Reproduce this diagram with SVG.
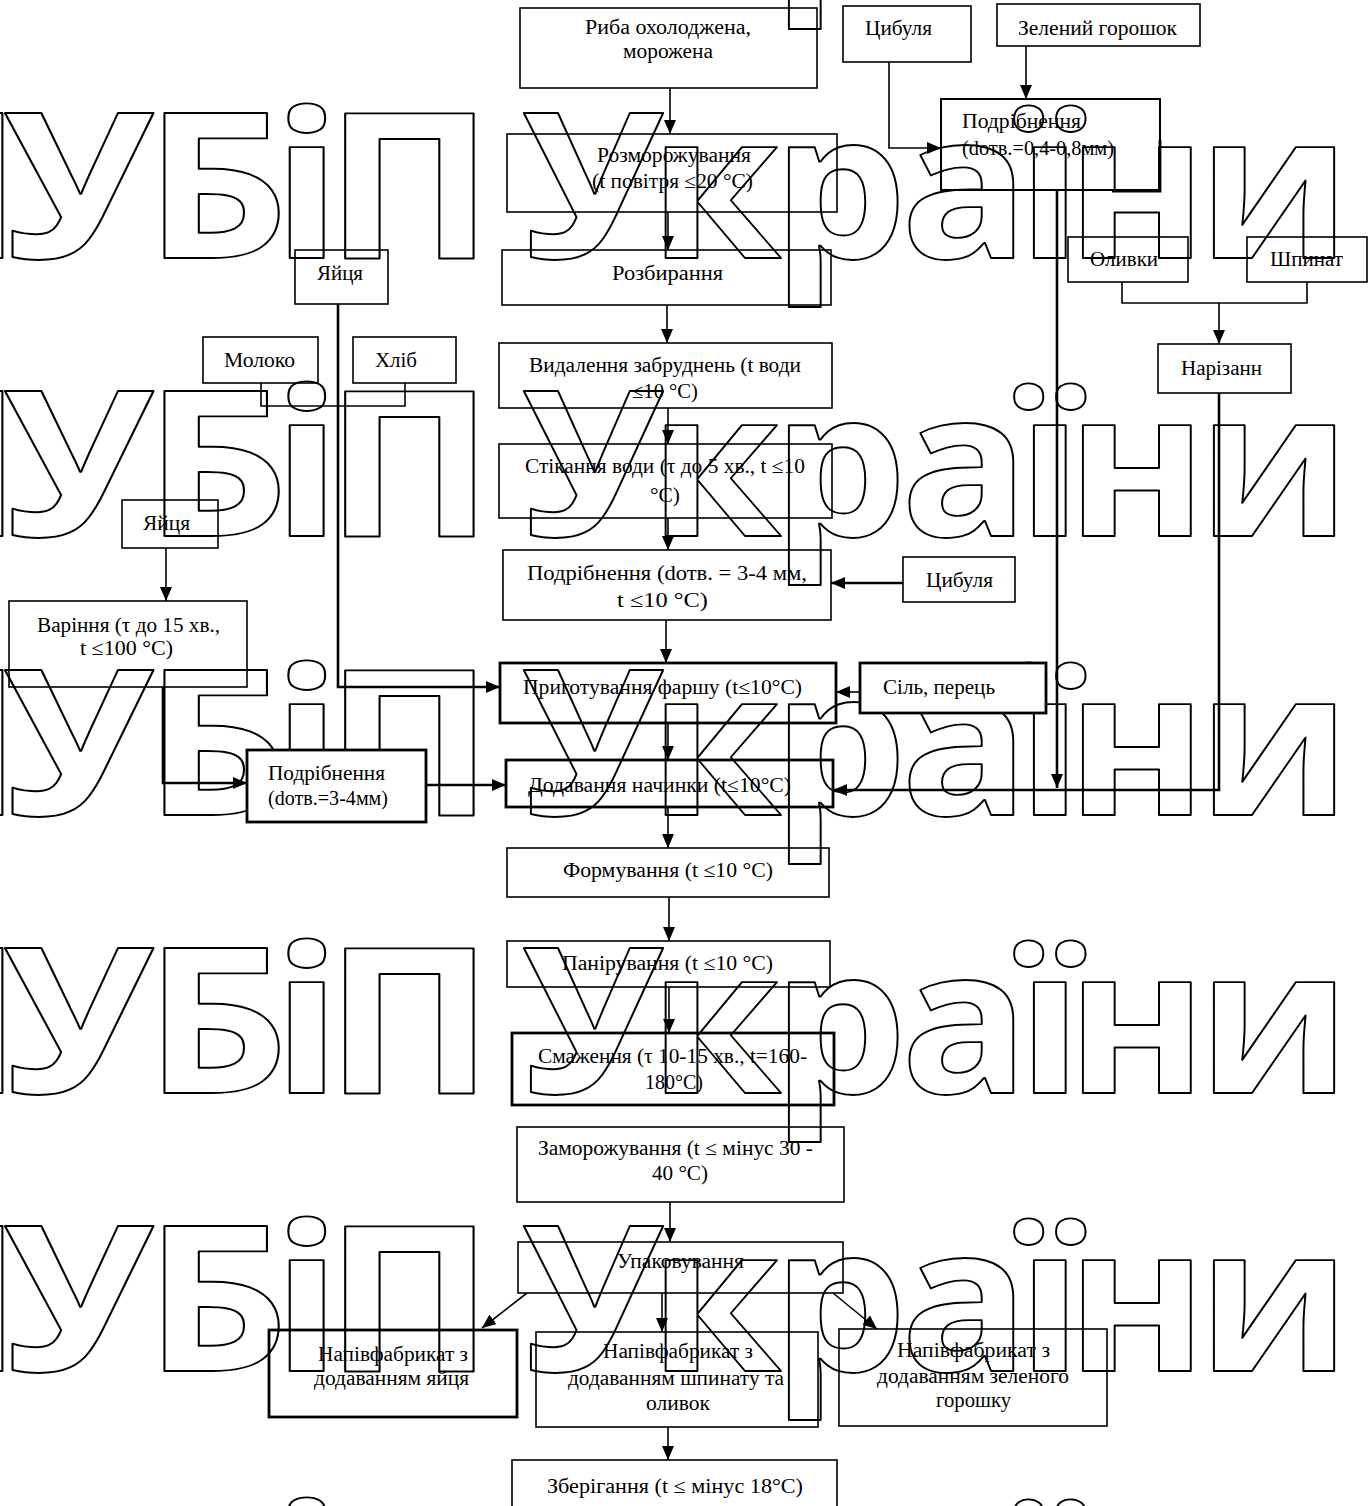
<svg xmlns="http://www.w3.org/2000/svg" width="1369" height="1506" viewBox="0 0 1369 1506">
<defs>
<style>
.t{font-family:"Liberation Serif","Times New Roman",serif;font-size:20px;fill:#000}
.b{fill:none;stroke:#000;stroke-width:1.6}
.bk{fill:none;stroke:#000;stroke-width:2.8}
.bw{fill:#fff;stroke:#000;stroke-width:2.8}
.c{fill:none;stroke:#000;stroke-width:1.6}
.ck{fill:none;stroke:#000;stroke-width:2.6}
.wm{font-family:"Open Sans","Noto Sans",sans-serif;font-weight:bold;font-size:203px;fill:none;stroke:#000;stroke-width:1.9;stroke-linejoin:round}
</style>
<marker id="ah" viewBox="0 0 14 12" refX="14" refY="6" markerWidth="14" markerHeight="12" orient="auto" markerUnits="userSpaceOnUse"><path d="M0,0 L14,6 L0,12 z" fill="#000"/></marker>
<g id="wmrow">
<text class="wm" transform="scale(1.12,1)" x="-134.9 2.5 128.6 242.9 290">НУБіП</text>
<text class="wm" transform="scale(1.05,1)" x="497 618.2 735.5 857.7 968.8 1015.4 1140.2">України</text>
</g>
</defs>
<rect width="1369" height="1506" fill="#fff"/>
<g id="n1"><rect class="b" x="520" y="8" width="297" height="80"/><text class="t" x="585" y="34" textLength="166" lengthAdjust="spacingAndGlyphs">Риба  охолоджена,</text><text class="t" x="623" y="58" textLength="90" lengthAdjust="spacingAndGlyphs">морожена</text></g>
<g id="n2"><rect class="b" x="507" y="134" width="330" height="78"/><text class="t" x="597" y="162" textLength="154" lengthAdjust="spacingAndGlyphs">Розморожування</text><text class="t" x="592" y="188" textLength="161" lengthAdjust="spacingAndGlyphs">(t повітря ≤20  °C)</text></g>
<g id="n3"><rect class="b" x="502" y="250" width="329" height="55"/><text class="t" x="612" y="280" textLength="111" lengthAdjust="spacingAndGlyphs">Розбирання</text></g>
<g id="n4"><rect class="b" x="499" y="343" width="333" height="65"/><text class="t" x="529" y="372" textLength="272" lengthAdjust="spacingAndGlyphs">Видалення забруднень (t води</text><text class="t" x="632" y="398" textLength="66" lengthAdjust="spacingAndGlyphs">≤10 °С)</text></g>
<g id="n5"><rect class="b" x="499" y="444" width="333" height="74"/><text class="t" x="525" y="473" textLength="280" lengthAdjust="spacingAndGlyphs">Стікання води (τ до 5 хв., t ≤10</text><text class="t" x="650" y="502" textLength="30" lengthAdjust="spacingAndGlyphs">°С)</text></g>
<g id="n6"><rect class="b" x="503" y="550" width="328" height="70"/><text class="t" x="527" y="580" textLength="280" lengthAdjust="spacingAndGlyphs">Подрібнення (dотв. = 3-4 мм,</text><text class="t" x="617" y="607" textLength="91" lengthAdjust="spacingAndGlyphs">t ≤10 °С)</text></g>
<g id="n7"><rect class="bk" x="500" y="663" width="336" height="60"/><text class="t" x="523" y="694" textLength="279" lengthAdjust="spacingAndGlyphs">Приготування фаршу (t≤10°C)</text></g>
<g id="n8"><rect class="bk" x="506" y="760" width="327" height="47"/><text class="t" x="528" y="792" textLength="263" lengthAdjust="spacingAndGlyphs">Додавання начинки (t≤10°C)</text></g>
<g id="n9"><rect class="b" x="507" y="848" width="322" height="49"/><text class="t" x="563" y="877" textLength="210" lengthAdjust="spacingAndGlyphs">Формування  (t ≤10 °С)</text></g>
<g id="n10"><rect class="b" x="507" y="941" width="323" height="46"/><text class="t" x="562" y="970" textLength="211" lengthAdjust="spacingAndGlyphs">Панірування  (t ≤10 °С)</text></g>
<g id="n11"><rect class="bk" x="512" y="1033" width="322" height="72"/><text class="t" x="538" y="1063" textLength="269" lengthAdjust="spacingAndGlyphs">Смаження (τ 10-15 хв., t=160-</text><text class="t" x="645" y="1089" textLength="58" lengthAdjust="spacingAndGlyphs">180°С)</text></g>
<g id="n12"><rect class="b" x="517" y="1127" width="327" height="75"/><text class="t" x="538" y="1155" textLength="275" lengthAdjust="spacingAndGlyphs">Заморожування (t ≤ мінус 30 -</text><text class="t" x="652" y="1180" textLength="56" lengthAdjust="spacingAndGlyphs">40 °С)</text></g>
<g id="n13"><rect class="b" x="518" y="1242" width="325" height="51"/><text class="t" x="617" y="1268" textLength="127" lengthAdjust="spacingAndGlyphs">Упаковування</text></g>
<g id="n14"><rect class="bk" x="269" y="1330" width="248" height="87"/><text class="t" x="318" y="1361" textLength="150" lengthAdjust="spacingAndGlyphs">Напівфабрикат з</text><text class="t" x="314" y="1385" textLength="155" lengthAdjust="spacingAndGlyphs">додаванням яйця</text></g>
<g id="n15"><rect class="b" x="536" y="1332" width="282" height="95"/><text class="t" x="603" y="1358" textLength="150" lengthAdjust="spacingAndGlyphs">Напівфабрикат з</text><text class="t" x="568" y="1385" textLength="216" lengthAdjust="spacingAndGlyphs">додаванням шпинату та</text><text class="t" x="646" y="1410" textLength="64" lengthAdjust="spacingAndGlyphs">оливок</text></g>
<g id="n16"><rect class="b" x="839" y="1329" width="268" height="97"/><text class="t" x="897" y="1357" textLength="153" lengthAdjust="spacingAndGlyphs">Напівфабрикат з</text><text class="t" x="877" y="1383" textLength="192" lengthAdjust="spacingAndGlyphs">додаванням зеленого</text><text class="t" x="936" y="1407" textLength="75" lengthAdjust="spacingAndGlyphs">горошку</text></g>
<g id="n17"><rect class="b" x="512" y="1460" width="325" height="60"/><text class="t" x="547" y="1493" textLength="256" lengthAdjust="spacingAndGlyphs">Зберігання  (t  ≤ мінус 18°C)</text></g>
<g id="n18"><rect class="b" x="843" y="6" width="128" height="56"/><text class="t" x="865" y="35" textLength="67" lengthAdjust="spacingAndGlyphs">Цибуля</text></g>
<g id="n19"><rect class="b" x="997" y="4" width="203" height="42"/><text class="t" x="1018" y="35" textLength="159" lengthAdjust="spacingAndGlyphs">Зелений горошок</text></g>
<g id="n20"><rect class="b" x="941" y="99" width="219" height="91" style="stroke-width:2"/><path class="bk" d="M1160,140 V191 H1112"/><text class="t" x="962" y="128" textLength="119" lengthAdjust="spacingAndGlyphs">Подрібнення</text><text class="t" x="962" y="155" textLength="152" lengthAdjust="spacingAndGlyphs">(dотв.=0,4-0,8мм)</text></g>
<g id="n21"><rect class="b" x="1068" y="237" width="120" height="45"/><text class="t" x="1090" y="266" textLength="68" lengthAdjust="spacingAndGlyphs">Оливки</text></g>
<g id="n22"><rect class="b" x="1247" y="237" width="120" height="45"/><text class="t" x="1270" y="266" textLength="73" lengthAdjust="spacingAndGlyphs">Шпинат</text></g>
<g id="n23"><rect class="b" x="1158" y="344" width="133" height="49"/><text class="t" x="1181" y="375" textLength="81" lengthAdjust="spacingAndGlyphs">Нарізанн</text></g>
<g id="n24"><rect class="b" x="295" y="250" width="93" height="54"/><text class="t" x="317" y="280" textLength="46" lengthAdjust="spacingAndGlyphs">Яйця</text></g>
<g id="n25"><rect class="b" x="203" y="337" width="115" height="46"/><text class="t" x="224" y="367" textLength="71" lengthAdjust="spacingAndGlyphs">Молоко</text></g>
<g id="n26"><rect class="b" x="353" y="337" width="103" height="46"/><text class="t" x="375" y="367" textLength="42" lengthAdjust="spacingAndGlyphs">Хліб</text></g>
<g id="n27"><rect class="b" x="122" y="500" width="96" height="48"/><text class="t" x="143" y="530" textLength="47" lengthAdjust="spacingAndGlyphs">Яйця</text></g>
<g id="n28"><rect class="b" x="9" y="601" width="238" height="86"/><text class="t" x="37" y="632" textLength="183" lengthAdjust="spacingAndGlyphs">Варіння (τ до 15 хв.,</text><text class="t" x="80" y="655" textLength="93" lengthAdjust="spacingAndGlyphs">t ≤100 °С)</text></g>
<g id="n30"><rect class="b" x="903" y="557" width="112" height="45"/><text class="t" x="926" y="587" textLength="67" lengthAdjust="spacingAndGlyphs">Цибуля</text></g>
<g id="connectors">
<path class="c" d="M670,88 V134" marker-end="url(#ah)"/>
<path class="c" d="M668,212 V250" marker-end="url(#ah)"/>
<path class="c" d="M667,305 V343" marker-end="url(#ah)"/>
<path class="c" d="M668,408 V444" marker-end="url(#ah)"/>
<path class="c" d="M668,518 V550" marker-end="url(#ah)"/>
<path class="c" d="M666,620 V663" marker-end="url(#ah)"/>
<path class="c" d="M668,723 V760" marker-end="url(#ah)"/>
<path class="c" d="M668,807 V848" marker-end="url(#ah)"/>
<path class="c" d="M669,897 V941" marker-end="url(#ah)"/>
<path class="c" d="M669,987 V1033" marker-end="url(#ah)"/>
<path class="c" d="M670,1202 V1242" marker-end="url(#ah)"/>
<path class="c" d="M527,1293 L482,1328" marker-end="url(#ah)"/>
<path class="c" d="M662,1293 V1332" marker-end="url(#ah)"/>
<path class="c" d="M833,1293 L877,1329" marker-end="url(#ah)"/>
<path class="c" d="M668,1427 V1460" marker-end="url(#ah)"/>
<path class="c" d="M889,62 V148 H941" marker-end="url(#ah)"/>
<path class="c" d="M1026,46 V99" marker-end="url(#ah)"/>
<path class="ck" d="M1057,190 V788" marker-end="url(#ah)"/>
<path class="c" d="M1122,282 V303 H1307 V282"/>
<path class="c" d="M1219,303 V344" marker-end="url(#ah)"/>
<path class="ck" d="M1219,393 V790 H833" marker-end="url(#ah)"/>
<path class="ck" d="M903,583 H831" marker-end="url(#ah)"/>
<path class="c" d="M860,692 H836" marker-end="url(#ah)"/>
<path class="ck" d="M338,304 V687 H500" marker-end="url(#ah)"/>
<path class="c" d="M261,383 V406 H405 V383"/>
<path class="c" d="M166,548 V601" marker-end="url(#ah)"/>
<path class="ck" d="M163,687 V783 H247" marker-end="url(#ah)"/>
<path class="ck" d="M426,785 H506" marker-end="url(#ah)"/>
</g>
<g id="watermark">
<use href="#wmrow" transform="translate(0,-20)"/>
<use href="#wmrow" transform="translate(0,258)"/>
<use href="#wmrow" transform="translate(0,536)"/>
<use href="#wmrow" transform="translate(0,815)"/>
<use href="#wmrow" transform="translate(0,1093)"/>
<use href="#wmrow" transform="translate(0,1371)"/>
<use href="#wmrow" transform="translate(0,1652)"/>
</g>
<g id="n29"><rect class="bw" x="247" y="750" width="179" height="72"/><text class="t" x="268" y="780" textLength="117" lengthAdjust="spacingAndGlyphs">Подрібнення</text><text class="t" x="268" y="805" textLength="120" lengthAdjust="spacingAndGlyphs">(dотв.=3-4мм)</text></g>
<g id="n31"><rect class="bw" x="860" y="663" width="186" height="50"/><text class="t" x="883" y="694" textLength="112" lengthAdjust="spacingAndGlyphs">Сіль, перець</text></g>
</svg>
